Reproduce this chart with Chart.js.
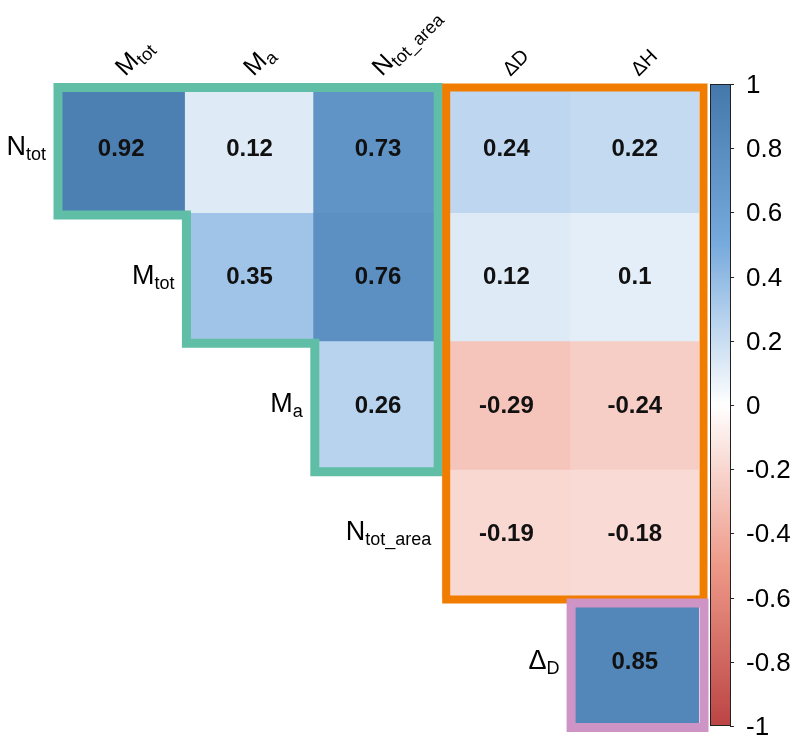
<!DOCTYPE html>
<html>
<head>
<meta charset="utf-8">
<script src="https://cdn.jsdelivr.net/npm/chart.js@4.4.0/dist/chart.umd.min.js"></script>
<style>
html, body { margin: 0; padding: 0; background: #fff; }
#wrap { width: 800px; height: 741px; }
</style>
</head>
<body>
<div id="wrap"><canvas id="corrChart" width="800" height="741"></canvas></div>
<script>
// rotulos: [texto, subscrito]
const colLabels = [['M', 'tot'], ['M', 'a'], ['N', 'tot_area'], ['ΔD', ''], ['ΔH', '']];
const rowLabels = [['N', 'tot'], ['M', 'tot'], ['M', 'a'], ['N', 'tot_area'], ['Δ', 'D']];

// correlacoes por linha (null = celula vazia)
const rowNtot     = [0.92, 0.12, 0.73, 0.24, 0.22];
const rowMtot     = [null, 0.35, 0.76, 0.12, 0.1];
const rowMa       = [null, null, 0.26, -0.29, -0.24];
const rowNtotArea = [null, null, null, -0.19, -0.18];
const rowDeltaD   = [null, null, null, null, 0.85];

// ticks da barra de cores
const cbTicks = [1, 0.8, 0.6, 0.4, 0.2, 0, -0.2, -0.4, -0.6, -0.8, -1];

const rows = [rowNtot, rowMtot, rowMa, rowNtotArea, rowDeltaD];

// paleta (-1 .. 1)
const paletteStops = [-1, -0.5, 0, 0.5, 1];
const paletteCols = ['#BB4444', '#EE9988', '#FFFFFF', '#77AADD', '#4477AA'];
const FONT = '"Liberation Sans", Arial, sans-serif';

function hexRgb(h) {
    return [parseInt(h.substr(1, 2), 16), parseInt(h.substr(3, 2), 16), parseInt(h.substr(5, 2), 16)];
}
function colorFor(v) {
    for (let i = 0; i < paletteStops.length - 1; i++) {
        if (v <= paletteStops[i + 1]) {
            const t = (v - paletteStops[i]) / (paletteStops[i + 1] - paletteStops[i]);
            const a = hexRgb(paletteCols[i]), b = hexRgb(paletteCols[i + 1]);
            const c = a.map((x, k) => Math.round(x + (b[k] - x) * t));
            return 'rgb(' + c.join(',') + ')';
        }
    }
    return paletteCols[paletteCols.length - 1];
}

// contornos dos grupos (cantos da grade em [coluna, linha], sentido horario)
const groups = [
    { color: '#5fbea5', width: 9, pts: [[0, 0], [3, 0], [3, 3], [2, 3], [2, 2], [1, 2], [1, 1], [0, 1]], inset: { t: 3.5, r: 4, b: -2.5, l: 1 } },
    { color: '#f07c00', width: 8, pts: [[3, 0], [5, 0], [5, 4], [3, 4]], inset: { t: 3.5, r: -4.5, b: -2, l: 4 } },
    { color: '#cf94c6', width: 9, pts: [[4, 4], [5, 4], [5, 5], [4, 5]], inset: { t: 5.5, r: -5, b: -1.5, l: 0.5 } }
];

const datasets = rows.map(function (vals, r) {
    return {
        label: rowLabels[r].join(''),
        data: vals.map(v => v === null ? null : [r, r + 1]),
        values: vals,
        backgroundColor: vals.map(v => v === null ? 'transparent' : colorFor(v)),
        borderWidth: 0,
        inflateAmount: 0.5,
        borderSkipped: false,
        grouped: false,
        barPercentage: 1,
        categoryPercentage: 1
    };
});

function drawLabel(ctx, lab, x, y, align, size, subSize) {
    ctx.font = size + 'px ' + FONT;
    const mw = ctx.measureText(lab[0]).width;
    ctx.font = subSize + 'px ' + FONT;
    const sw = lab[1] ? ctx.measureText(lab[1]).width : 0;
    let x0 = align === 'right' ? x - mw - sw : x;
    ctx.textAlign = 'left';
    ctx.textBaseline = 'alphabetic';
    ctx.fillStyle = '#000';
    ctx.font = size + 'px ' + FONT;
    ctx.fillText(lab[0], x0, y);
    if (lab[1]) {
        ctx.font = subSize + 'px ' + FONT;
        ctx.fillText(lab[1], x0 + mw, y + 5);
    }
}

const corrPlugin = {
    id: 'corrExtras',
    afterDatasetsDraw(chart) {
        const ctx = chart.ctx;
        const xs = chart.scales.x, ys = chart.scales.y, cb = chart.scales.cb;
        const n = colLabels.length;
        const cw = xs.getPixelForValue(1) - xs.getPixelForValue(0);
        const gx = c => c < n ? xs.getPixelForValue(c) - cw / 2 : xs.getPixelForValue(n - 1) + cw / 2;
        const gy = r => ys.getPixelForValue(r);

        // valores nas celulas
        ctx.save();
        ctx.font = 'bold 24px ' + FONT;
        ctx.textAlign = 'center';
        ctx.textBaseline = 'middle';
        ctx.fillStyle = '#111';
        chart.data.datasets.forEach(function (ds, di) {
            const meta = chart.getDatasetMeta(di);
            ds.values.forEach(function (v, i) {
                if (v === null) return;
                const p = meta.data[i].getCenterPoint();
                ctx.fillText(String(v), p.x, p.y + 1);
            });
        });
        ctx.restore();

        // contornos
        ctx.save();
        groups.forEach(function (g) {
            const m = g.pts.length;
            const edges = [];
            for (let i = 0; i < m; i++) {
                const a = g.pts[i], b = g.pts[(i + 1) % m];
                if (a[1] === b[1]) {
                    const y = b[0] > a[0] ? gy(a[1]) + g.inset.t : gy(a[1]) - g.inset.b;
                    edges.push({ h: true, v: y });
                } else {
                    const x = b[1] > a[1] ? gx(a[0]) - g.inset.r : gx(a[0]) + g.inset.l;
                    edges.push({ h: false, v: x });
                }
            }
            ctx.beginPath();
            for (let i = 0; i < m; i++) {
                const e1 = edges[(i - 1 + m) % m], e2 = edges[i];
                const x = e1.h ? e2.v : e1.v;
                const y = e1.h ? e1.v : e2.v;
                if (i === 0) ctx.moveTo(x, y); else ctx.lineTo(x, y);
            }
            ctx.closePath();
            ctx.lineJoin = 'miter';
            ctx.lineWidth = g.width;
            ctx.strokeStyle = g.color;
            ctx.stroke();
        });
        ctx.restore();

        // rotulos das linhas
        ctx.save();
        rowLabels.forEach(function (lab, r) {
            const yc = (gy(r) + gy(r + 1)) / 2;
            drawLabel(ctx, lab, gx(r) - 11, yc + 7, 'right', 27, 18);
        });
        ctx.restore();

        // rotulos das colunas (45 graus)
        colLabels.forEach(function (lab, c) {
            ctx.save();
            ctx.translate(xs.getPixelForValue(c) + 4, chart.chartArea.top - 7);
            ctx.rotate(-Math.PI / 4);
            if (lab[1]) drawLabel(ctx, lab, 0, 0, 'left', 25, 18);
            else drawLabel(ctx, lab, 0, 0, 'left', 20, 14);
            ctx.restore();
        });

        // barra de cores
        ctx.save();
        const top = cb.getPixelForValue(1), bot = cb.getPixelForValue(-1);
        const bx = chart.chartArea.right + 11, bw = 20;
        const grad = ctx.createLinearGradient(0, bot, 0, top);
        paletteStops.forEach((s, i) => grad.addColorStop((s + 1) / 2, paletteCols[i]));
        ctx.fillStyle = grad;
        ctx.fillRect(bx, top, bw, bot - top);
        ctx.lineWidth = 1;
        ctx.strokeStyle = '#222';
        ctx.strokeRect(bx + 0.5, top + 0.5, bw, bot - top - 1);
        ctx.font = '26px ' + FONT;
        ctx.fillStyle = '#000';
        ctx.textAlign = 'left';
        ctx.textBaseline = 'middle';
        cbTicks.forEach(function (t) {
            const y = Math.round(cb.getPixelForValue(t)) + 0.5;
            ctx.beginPath();
            ctx.moveTo(bx + bw, y);
            ctx.lineTo(bx + bw + 4, y);
            ctx.stroke();
            ctx.fillText(String(t), bx + bw + 16, y + 1);
        });
        ctx.restore();
    }
};

const ctx = document.getElementById('corrChart').getContext('2d');
const corrChart = new Chart(ctx, {
    type: 'bar',
    data: {
        labels: colLabels.map(l => l.join('')),
        datasets: datasets
    },
    options: {
        responsive: false,
        animation: false,
        layout: { padding: { left: 57, top: 84, right: 101, bottom: 15 } },
        plugins: { legend: { display: false }, tooltip: { enabled: false } },
        scales: {
            x: { type: 'category', display: false, offset: true, grid: { display: false } },
            y: { type: 'linear', display: false, min: 0, max: rowLabels.length, reverse: true },
            cb: { type: 'linear', axis: 'y', position: 'right', display: false, min: -1, max: 1 }
        }
    },
    plugins: [corrPlugin]
});
</script>
</body>
</html>
